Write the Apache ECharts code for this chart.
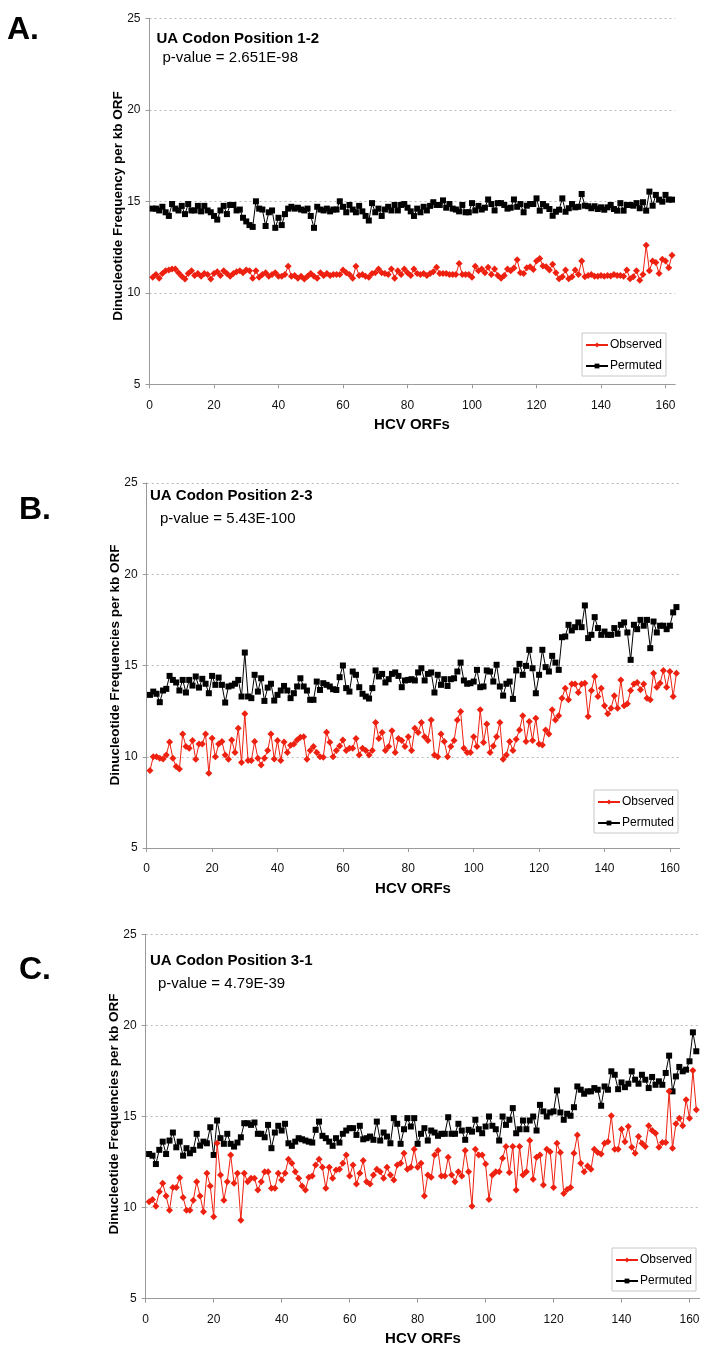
<!DOCTYPE html>
<html><head><meta charset="utf-8">
<script src="https://cdn.jsdelivr.net/npm/echarts@6/dist/echarts.min.js"></script>
<style>html,body{margin:0;padding:0;background:#fff}#c{width:725px;height:1360px}</style>
</head><body><div id="c"></div>
<script>
// ---------------- DATA ----------------
const permA = [14.6,14.6,14.5,14.7,14.4,14.2,14.85,14.6,14.5,14.75,
14.3,14.85,14.5,14.5,14.75,14.45,14.75,14.5,14.4,14.2,
14.0,14.5,14.75,14.3,14.8,14.8,14.5,14.55,14.1,13.9,
13.7,13.6,15.0,14.6,14.55,13.65,14.4,14.5,13.55,14.1,
13.7,14.3,14.6,14.7,14.6,14.65,14.55,14.5,14.6,14.2,
13.55,14.7,14.55,14.5,14.6,14.45,14.55,
14.55,15.0,14.7,14.4,14.8,14.55,14.4,14.75,14.45,14.2,
13.95,14.9,14.4,14.6,14.2,14.55,14.7,14.5,14.8,14.5,
14.8,14.85,14.65,14.45,14.2,14.6,14.4,14.7,14.5,14.75,
14.95,14.8,14.8,15.05,14.65,14.85,14.6,14.55,14.45,14.8,
14.4,14.4,14.9,14.5,14.75,14.55,14.65,15.1,14.85,14.5,
14.9,14.9,14.8,14.6,14.65,15.1,14.7,14.85,
14.4,14.76,14.85,14.85,15.16,14.49,14.85,14.73,14.58,14.21,
14.43,14.54,15.16,14.43,14.62,14.85,14.67,14.7,15.4,14.76,
14.73,14.62,14.73,14.58,14.67,14.54,14.67,14.8,14.58,14.49,
14.9,14.49,14.8,14.8,14.76,14.9,14.62,14.95,14.49,15.53,
14.76,15.35,15.09,14.98,15.35,15.09,15.09];
const obsA = [10.85,11.0,10.8,11.05,11.2,11.25,11.3,11.3,11.1,10.9,
10.75,11.05,11.2,10.95,11.05,10.9,11.05,11.0,10.75,11.05,
11.15,10.95,11.2,11.05,10.9,11.05,11.15,11.2,11.1,11.25,
11.2,10.8,11.2,10.85,11.0,11.1,10.9,11.0,11.1,
10.9,10.9,11.0,11.45,10.9,10.95,10.8,10.9,10.75,10.9,11.05,10.9,10.8,11.1,10.95,11.05,10.95,11.0,
11.0,11.0,11.25,11.1,11.0,10.8,11.45,10.95,11.0,10.9,
10.85,11.05,11.1,11.3,11.1,11.05,11.0,11.3,10.8,11.2,
11.0,11.3,11.1,10.95,11.3,11.05,11.0,11.05,10.95,11.05,
11.15,11.4,11.05,11.05,11.05,11.0,11.0,11.0,11.6,11.0,
11.0,11.0,10.85,11.45,11.2,11.3,11.1,11.4,11.0,11.3,
10.95,10.8,10.95,11.3,11.2,11.35,
11.8,11.1,11.05,11.37,11.43,11.28,11.74,11.87,11.47,11.43,
11.25,11.56,11.1,10.77,10.88,11.25,10.77,10.88,11.25,11.0,
11.74,10.88,10.95,11.0,10.9,10.9,10.95,10.9,10.95,10.92,
11.0,10.95,10.95,10.9,11.25,10.77,10.88,11.2,10.68,11.0,
12.6,11.2,11.74,11.65,11.05,11.83,11.74,11.37,12.05];
const permB = [13.39,13.57,13.45,12.99,13.63,13.72,14.43,14.21,14.07,13.63,
14.21,13.52,14.21,13.9,14.4,13.79,14.27,14.0,13.48,14.43,
13.94,14.34,13.94,12.97,13.85,13.9,14.0,14.21,13.3,15.71,
13.3,13.21,14.49,13.57,14.3,13.06,13.79,14.0,13.08,13.39,
13.63,13.88,13.63,13.21,13.48,13.85,14.3,13.85,13.63,13.12,
13.12,14.12,13.66,14.03,13.94,
13.85,13.7,13.66,14.36,15.0,13.76,13.57,14.67,14.49,13.81,
13.45,13.3,13.19,13.76,14.73,14.4,14.54,14.07,14.25,14.54,
14.62,14.43,13.81,14.18,14.21,14.25,14.18,14.62,14.85,14.18,
14.54,14.62,13.52,14.49,13.94,14.25,13.88,14.25,14.3,14.67,
15.16,14.18,14.0,14.03,14.12,14.76,13.81,13.85,14.73,14.67,
14.12,15.04,13.85,13.35,14.0,14.12,13.17,
14.73,15.09,14.49,14.98,15.86,14.85,13.48,14.49,15.86,14.91,
14.67,15.53,15.16,14.76,16.55,16.59,17.23,16.92,17.1,17.36,
17.1,18.29,16.5,16.68,17.65,17.05,16.68,16.86,16.68,16.68,
17.05,16.74,17.23,17.36,16.81,15.31,17.23,16.99,17.5,17.18,
17.5,15.95,17.41,16.81,17.18,17.18,16.99,17.18,17.91,18.2];
const obsB = [9.24,10.0,10.0,9.92,9.88,10.1,10.81,9.92,9.46,9.33,
11.25,10.56,10.47,10.89,9.86,10.7,10.7,11.25,9.1,11.01,
10.0,10.7,10.83,10.1,9.86,10.92,10.23,11.56,9.68,12.35,
9.79,9.79,10.83,9.92,9.55,9.92,10.34,11.25,9.88,10.89,
9.79,10.81,10.23,10.63,10.7,10.92,11.07,11.1,9.86,10.34,
10.56,10.23,10.0,9.97,11.34,
10.8,10.0,10.34,10.59,10.92,10.34,10.47,10.47,11.0,10.1,
10.47,10.34,10.1,10.34,11.87,11.0,11.33,10.34,10.56,11.43,
10.23,11.0,10.89,10.56,11.1,10.34,11.56,11.33,11.87,11.1,
10.89,12.02,10.1,10.0,11.25,10.83,10.0,10.56,10.89,12.02,
12.48,10.47,10.23,10.23,11.1,10.56,12.57,10.78,11.8,10.23,
10.59,11.1,11.87,9.86,10.1,10.83,10.34,
10.96,11.47,12.24,10.83,11.93,10.89,12.11,10.7,10.65,11.47,
11.25,12.57,12.02,12.24,13.21,13.76,13.12,13.99,13.99,13.52,
13.99,14.03,12.2,13.63,14.4,13.3,13.76,12.79,12.35,12.66,
13.34,12.66,14.21,12.79,12.9,13.63,13.99,14.07,13.67,13.99,
13.21,13.12,14.58,13.81,14.03,14.73,13.81,14.67,13.3,14.58];
const permC = [12.94,12.85,12.39,13.17,13.62,12.94,13.68,14.12,13.31,13.62,
12.85,13.26,12.98,13.17,14.05,13.4,13.62,13.53,14.41,12.89,
14.78,13.81,13.5,14.05,13.5,13.35,13.57,13.86,14.63,14.63,
14.54,14.67,14.05,14.05,13.86,14.54,13.26,14.12,14.49,14.23,
14.6,13.53,13.39,13.62,13.81,13.75,13.68,13.62,13.57,14.27,
14.72,13.94,13.81,13.62,13.39,13.81,
13.57,14.05,14.23,14.36,14.36,13.99,14.49,13.75,13.81,13.9,
13.72,14.72,13.68,14.12,13.9,13.53,14.91,14.6,13.5,14.3,
14.91,14.45,14.91,13.5,14.05,14.36,13.68,14.23,14.12,13.94,
14.05,14.05,14.96,14.05,14.05,14.6,14.23,13.72,14.27,14.17,
14.82,14.3,14.08,14.45,15.0,14.49,14.3,13.68,15.0,14.54,
14.82,15.46,
14.08,14.3,14.78,14.3,14.78,15.0,14.23,15.64,15.28,15.0,
15.22,15.28,16.43,15.22,14.82,15.15,15.04,15.51,16.65,16.47,
16.25,16.38,16.38,16.56,16.47,15.59,16.65,16.47,17.48,17.29,
16.5,16.87,16.61,16.8,17.48,17.02,16.8,17.29,17.02,16.56,
17.17,16.74,16.93,16.74,17.39,18.34,16.38,17.2,17.72,17.48,
17.57,18.03,19.62,18.58];
const obsC = [10.32,10.45,10.08,10.87,11.33,10.63,9.86,11.11,11.11,11.64,
10.56,9.86,9.86,10.41,11.42,10.63,9.77,11.88,11.18,9.5,
13.53,11.79,10.41,11.42,12.89,11.33,11.88,9.31,11.88,11.42,
11.61,11.61,10.96,11.42,11.97,11.97,11.06,11.06,11.88,11.51,
11.88,12.65,12.43,11.97,11.61,11.18,10.96,11.66,11.73,12.34,
12.65,12.21,11.06,12.21,11.61,12.06,
12.1,12.43,12.89,11.73,12.34,11.29,11.88,12.58,11.42,11.29,
11.79,12.1,11.97,11.61,12.21,11.79,11.51,12.34,12.43,12.98,
12.1,12.21,13.2,12.21,12.43,10.63,11.79,11.66,12.89,13.13,
11.73,11.73,12.76,11.79,11.42,11.97,11.73,13.13,11.97,10.08,
13.2,12.89,12.89,12.39,10.45,11.79,11.97,11.97,12.71,13.35,
11.92,13.35,
10.96,13.35,11.79,11.97,13.68,11.55,12.76,12.89,11.24,13.2,
13.07,11.11,13.53,13.02,10.78,11.0,11.11,12.98,13.99,12.43,
11.97,12.28,12.1,13.2,13.02,12.94,13.53,13.62,15.04,13.2,
13.2,14.3,13.62,14.45,13.31,12.98,13.9,13.53,13.35,14.49,
14.23,14.08,13.31,13.57,13.57,16.38,13.26,14.6,14.91,14.49,
15.92,14.91,17.53,15.37];

const xTicks = [0,20,40,60,80,100,120,140,160];
const yTicks = [5,10,15,20,25];
const seriesNames = ['Observed','Permuted'];
const panelLetters = ['A.','B.','C.'];
const panelTitles = ['UA Codon Position 1-2','UA Codon Position 2-3','UA Codon Position 3-1'];
const pValues = ['p-value = 2.651E-98','p-value = 5.43E-100','p-value = 4.79E-39'];
const yNames = ['Dinucleotide Frequency per kb ORF','Dinucleotide Frequencies per kb ORF','Dinucleotide Frequencies per kb ORF'];
const xName = 'HCV ORFs';

// ---------------- LAYOUT ----------------
const FONT = '"Liberation Sans", Arial, sans-serif';
const panels = [
  {obs: obsA, perm: permA, grid:{left:149.5, top:18.3, width:525.7, height:366},
   letter:{x:7, y:30}, title:{x:156.5, y:38.8}, pv:{x:162.5, y:57.8},
   yName:{x:118, y:206}, xName:{x:412, y:425},
   legend:{left:582, top:333}},
  {obs: obsB, perm: permB, grid:{left:146.7, top:483, width:533, height:365},
   letter:{x:19, y:510}, title:{x:150, y:496}, pv:{x:160, y:519},
   yName:{x:115, y:665}, xName:{x:413, y:889},
   legend:{left:594, top:790}},
  {obs: obsC, perm: permC, grid:{left:145.7, top:934.3, width:554, height:364.4},
   letter:{x:19, y:970}, title:{x:150, y:961}, pv:{x:158, y:984},
   yName:{x:114, y:1114}, xName:{x:423, y:1339},
   legend:{left:612, top:1248}}
];

const grid = [], xAxis = [], yAxis = [], series = [], legend = [], graphic = [];
panels.forEach((p, k) => {
  grid.push(Object.assign({containLabel:false}, p.grid));
  xAxis.push({
    type:'value', gridIndex:k, min:0, max:163,
    axisLine:{lineStyle:{color:'#9a9a9a'}},
    axisTick:{show:true, customValues:xTicks, length:4, lineStyle:{color:'#9a9a9a'}},
    axisLabel:{customValues:xTicks, margin:15, fontFamily:FONT, fontSize:12, color:'#111'},
    splitLine:{show:false}
  });
  yAxis.push({
    type:'value', gridIndex:k, min:5, max:25, interval:5,
    axisLine:{show:true, lineStyle:{color:'#9a9a9a'}},
    axisTick:{show:true, length:4, lineStyle:{color:'#9a9a9a'}},
    axisLabel:{margin:9, fontFamily:FONT, fontSize:12, color:'#111'},
    splitLine:{show:true, lineStyle:{color:'#b8b8b8', type:[2,3], width:1}}
  });
  series.push({
    name:seriesNames[1], type:'line', xAxisIndex:k, yAxisIndex:k,
    data:p.perm.map((v,i)=>[i+1, v]),
    symbol:'rect', symbolSize:6, showAllSymbol:true,
    lineStyle:{color:'#000', width:1}, itemStyle:{color:'#000'}, z:2
  });
  series.push({
    name:seriesNames[0], type:'line', xAxisIndex:k, yAxisIndex:k,
    data:p.obs.map((v,i)=>[i+1, v]),
    symbol:'diamond', symbolSize:7, showAllSymbol:true,
    lineStyle:{color:'#ee2010', width:1}, itemStyle:{color:'#ee2010'}, z:3
  });
  legend.push({
    data:seriesNames, orient:'vertical', left:p.legend.left, top:p.legend.top,
    itemWidth:22, itemHeight:6, itemGap:9, padding:[6,4,4,3],
    borderColor:'#c8c8c8', borderWidth:1, selectedMode:false,
    textStyle:{fontFamily:FONT, fontSize:12, color:'#000', padding:[0,0,0,-3]}
  });
  graphic.push({type:'text', x:p.letter.x, y:p.letter.y,
    style:{text:panelLetters[k], fontFamily:FONT, fontWeight:'bold', fontSize:32, fill:'#000', verticalAlign:'middle'}});
  graphic.push({type:'text', x:p.title.x, y:p.title.y,
    style:{text:panelTitles[k], fontFamily:FONT, fontWeight:'bold', fontSize:15, fill:'#000', verticalAlign:'middle'}});
  graphic.push({type:'text', x:p.pv.x, y:p.pv.y,
    style:{text:pValues[k], fontFamily:FONT, fontSize:15, fill:'#000', verticalAlign:'middle'}});
  graphic.push({type:'text', x:p.yName.x, y:p.yName.y, rotation:Math.PI/2,
    style:{text:yNames[k], fontFamily:FONT, fontWeight:'bold', fontSize:13.5, fill:'#000', align:'center', verticalAlign:'middle'}});
  graphic.push({type:'text', x:p.xName.x, y:p.xName.y,
    style:{text:xName, fontFamily:FONT, fontWeight:'bold', fontSize:15, fill:'#000', align:'center', verticalAlign:'middle'}});
});

const chart = echarts.init(document.getElementById('c'), null, {renderer:'canvas'});
chart.setOption({
  animation:false, backgroundColor:'#fff',
  grid, xAxis, yAxis, series, legend, graphic
});
</script></body></html>
